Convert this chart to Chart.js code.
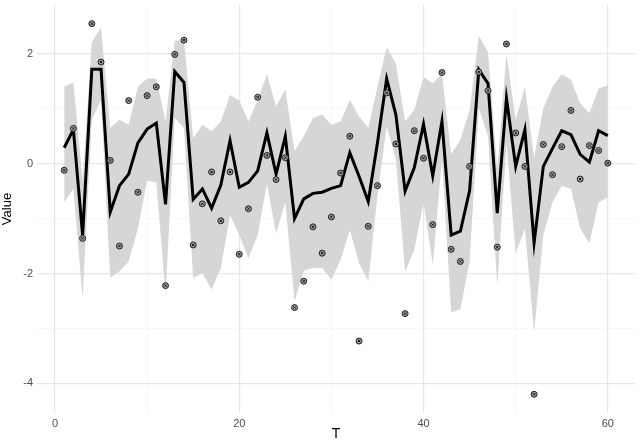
<!DOCTYPE html>
<html><head><meta charset="utf-8">
<script src="https://cdn.jsdelivr.net/npm/chart.js@4"></script>
<style>html,body{margin:0;padding:0;background:#fff}#w{width:640px;height:443px}</style>
</head><body><div id="w"><canvas id="c"></canvas></div>
<script>
const T = Array.from({length:60},(_,i)=>i+1);
const fitted = [0.29,0.62,-1.30,1.72,1.72,-0.88,-0.40,-0.19,0.38,0.63,0.74,-0.74,1.68,1.48,-0.65,-0.46,-0.81,-0.39,0.42,-0.43,
 -0.34,-0.13,0.56,-0.19,0.50,-1.00,-0.64,-0.54,-0.52,-0.45,-0.40,0.20,-0.23,-0.69,0.38,1.55,0.89,-0.50,-0.07,0.72,
 -0.22,0.77,-1.30,-1.23,-0.49,1.71,1.46,-0.90,1.19,-0.05,0.62,-1.44,-0.05,0.28,0.60,0.53,0.17,0.03,0.60,0.51];
const observed = [-0.12,0.64,-1.36,2.55,1.85,0.06,-1.50,1.15,-0.52,1.24,1.40,-2.22,1.99,2.25,-1.48,-0.73,-0.15,-1.04,-0.15,-1.65,
 -0.82,1.21,0.15,-0.29,0.11,-2.62,-2.14,-1.15,-1.63,-0.97,-0.17,0.50,-3.23,-1.14,-0.40,1.29,0.36,-2.73,0.60,0.10,
 -1.11,1.66,-1.56,-1.78,-0.05,1.67,1.33,-1.52,2.18,0.56,-0.05,-4.20,0.35,-0.20,0.31,0.97,-0.28,0.33,0.24,0.01];
const upper = [1.40,1.48,-0.30,2.21,2.48,0.65,0.80,0.71,1.40,1.55,1.55,0.77,2.24,2.24,0.47,0.71,0.59,0.77,1.25,1.15,
 0.77,1.16,1.63,1.04,1.35,0.23,0.50,0.83,0.89,0.71,0.77,1.16,0.86,0.65,1.40,2.12,1.82,0.77,0.98,1.58,
 1.46,1.64,0.17,0.44,0.98,2.33,2.03,-0.10,2.00,0.80,1.40,0.11,1.01,1.40,1.63,1.53,1.10,0.92,1.37,1.43];
const lower = [-0.70,-0.46,-2.45,0.80,1.16,-2.08,-1.96,-1.78,-1.18,-0.31,-0.34,-2.38,0.83,0.65,-2.08,-1.99,-2.29,-1.90,-0.94,-1.30,
 -1.72,-1.30,-0.37,-1.27,-0.70,-2.51,-1.95,-1.90,-1.90,-2.11,-1.75,-1.21,-1.81,-2.14,-0.58,0.68,0.08,-1.96,-1.57,-0.70,
 -1.84,0.08,-2.71,-2.65,-1.78,1.01,0.50,-2.23,0.38,-1.63,-1.18,-3.08,-1.30,-0.70,-0.40,-0.46,-1.18,-1.45,-0.70,-0.61];
const xy = a => a.map((v,i)=>({x:T[i],y:v}));
new Chart(document.getElementById('c'),{
 type:'line',
 data:{datasets:[
  {order:5,data:xy(upper),borderWidth:0,pointRadius:0,backgroundColor:'#d6d6d6',fill:'+1',tension:0},
  {order:4,data:xy(lower),borderWidth:0,pointRadius:0,fill:false,tension:0},
  {order:3,data:xy(fitted),borderColor:'#000',borderWidth:3,pointRadius:0,fill:false,tension:0},
  {order:2,type:'scatter',data:xy(observed),pointStyle:'circle',pointRadius:3,borderColor:'#222',borderWidth:1,backgroundColor:'#999'},
  {order:1,type:'scatter',data:xy(observed),pointStyle:'crossRot',pointRadius:1.6,borderColor:'#111',borderWidth:1}
 ]},
 options:{responsive:true,maintainAspectRatio:false,animation:false,
  layout:{padding:{top:-2,right:1,left:0,bottom:0}},
  plugins:{legend:{display:false},tooltip:{enabled:false}},
  scales:{
   x:{type:'linear',min:-1.95,max:62.95,border:{display:false},
      afterBuildTicks:s=>{s.ticks=[0,10,20,30,40,50,60].map(v=>({value:v}));},
      afterFit:s=>{s.height=30;s.paddingLeft=0;s.paddingRight=0;},
      grid:{color:c=>c.tick&&c.tick.value%20===0?'#e6e6e6':'#f2f2f2',lineWidth:c=>c.tick&&c.tick.value%20===0?1.2:0.6,drawTicks:false},
      ticks:{padding:4,color:'#4d4d4d',font:{family:'Liberation Sans',size:11},callback:v=>v%20===0?v:''},
      title:{display:true,text:'T',color:'#000',font:{family:'Liberation Sans',size:14},padding:{top:0,bottom:0}}},
   y:{min:-4.54,max:2.89,border:{display:false},
      afterBuildTicks:s=>{s.ticks=[-4,-3,-2,-1,0,1,2].map(v=>({value:v}));},
      afterFit:s=>{s.width=37;s.paddingTop=0;s.paddingBottom=0;},
      grid:{color:c=>c.tick&&c.tick.value%2===0?'#e6e6e6':'#f2f2f2',lineWidth:c=>c.tick&&c.tick.value%2===0?1.2:0.6,drawTicks:false},
      ticks:{padding:4,color:'#4d4d4d',font:{family:'Liberation Sans',size:11},callback:v=>v%2===0?v:''},
      title:{display:true,text:'Value',color:'#000',font:{family:'Liberation Sans',size:13},padding:{top:0,bottom:4}}}
  }}
});
</script></body></html>
